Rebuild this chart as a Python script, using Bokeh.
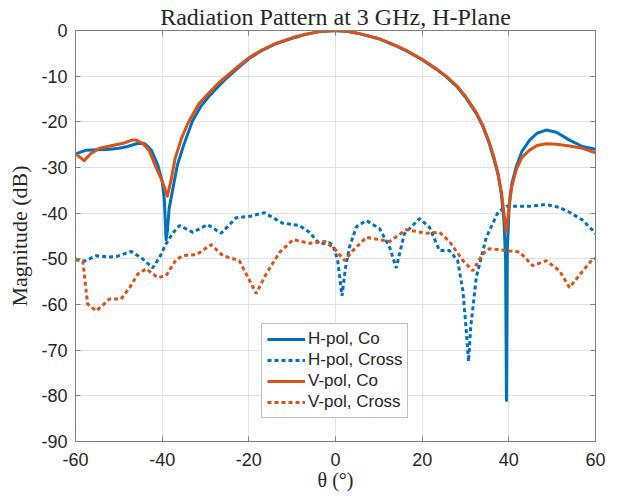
from bokeh.plotting import figure
from bokeh.models import LinearAxis, Legend, LegendItem, FixedTicker, Range1d, Title
from bokeh.embed import file_html
from bokeh.resources import INLINE

# ---- data ----
h_co_x = [-60, -57.5, -55, -52, -50, -48, -45.5, -44, -42.5, -41, -40, -39.5, -39.1, -38.8, -38.4,
          -37.5, -36.5, -35, -33, -31, -29, -27, -25, -22, -20, -17, -14, -10, -7, -4, 0, 3, 6, 10,
          14, 17, 20, 23, 25.5, 28, 30, 32.5, 34, 35.5, 36.5, 37.5, 38.3, 38.9, 39.25, 39.45, 39.65,
          40.1, 40.7, 41.7, 43, 44.8, 46.5, 48.6, 51, 54, 57, 60]
h_co_y = [-27, -26.2, -26.1, -26.0, -25.8, -25.4, -24.7, -24.8, -26.2, -29.5, -33, -37, -45.8, -44,
          -39, -34.5, -29.5, -25, -19.8, -16.5, -14.2, -12.2, -10.3, -7.8, -6.2, -4.4, -3.0, -1.7,
          -0.9, -0.3, 0, -0.2, -0.8, -1.8, -3.4, -4.8, -6.4, -8.3, -10.1, -12.3, -14.6, -18.2, -21,
          -24.8, -28, -31.5, -36, -42, -50, -81, -48, -38, -33.5, -29.9, -26.5, -24, -22.5, -21.8,
          -22.3, -24, -25.4, -26.0]

v_co_x = [-60, -58, -56.5, -54.5, -51.5, -49, -47, -46, -44.5, -43, -41.5, -40, -38.8, -38, -37,
          -35.5, -34, -31.5, -29, -27, -25, -22, -20, -17, -14, -10, -7, -4, 0, 3, 6, 10, 14, 17,
          20, 23, 25.5, 28, 30, 32.5, 34, 35.5, 36.5, 37.5, 38.3, 39, 39.4, 39.9, 40.6, 41.7, 43,
          44.8, 46.5, 48.6, 51, 54, 57, 60]
v_co_y = [-27, -28.5, -27, -25.8, -25.2, -24.7, -24.0, -24.0, -24.7, -26.3, -29.8, -33, -36.3, -33,
          -28, -23.5, -20.2, -16, -13.5, -11.5, -9.9, -7.5, -6, -4.3, -2.9, -1.6, -0.8, -0.3, 0,
          -0.2, -0.8, -1.8, -3.3, -4.7, -6.3, -8.2, -10.0, -12.1, -14.4, -18.0, -20.8, -24.5, -27.5,
          -31.3, -35.5, -41, -44.2, -40, -34.5, -30.5, -27.8, -26.2, -25.2, -24.8, -24.9, -25.3,
          -25.8, -26.8]

h_cr_x = [-60, -57.9, -55.2, -52.5, -50.6, -47.1, -44.5, -42.2, -40.6, -39.1, -37.5, -36, -32.9,
          -29.5, -26.4, -22.9, -19.8, -16.4, -12.2, -8.3, -6, -3.7, -1.4, -0.6, 0.5, 1.5, 2.3, 3.2,
          4.8, 7.1, 10.2, 12.5, 14.0, 15.9, 19.4, 21.7, 24.0, 26.3, 28.2, 29.4, 30.2, 30.7, 31.2,
          32.5, 34.8, 37.5, 39.5, 41.7, 44.8, 48.6, 51.5, 54, 57, 59.4, 60]
h_cr_y = [-50.2, -50.5, -49.3, -49.6, -49.5, -48.4, -50, -52, -49.7, -46.7, -44.3, -42.7, -44.2,
          -42.5, -44.4, -41, -40.7, -39.9, -42.2, -42.7, -44.2, -46.7, -46.5, -47, -50.3, -58.1,
          -52, -47.5, -43, -41.6, -43.4, -47.5, -52, -44.5, -41.2, -43.1, -48.2, -48.2, -50.4, -57,
          -66, -72.5, -65, -54, -45.3, -39.8, -38.5, -38.5, -38.5, -38.1, -38.7, -39.8, -41.5,
          -43.8, -44.5]

v_cr_x = [-60, -58.3, -57.2, -55.2, -53.5, -52.2, -49.5, -47.5, -45.6, -43.7, -41, -39.1, -36.8,
          -35.2, -32.1, -28.7, -26, -22.2, -19.8, -18.3, -16, -12.9, -9.8, -6, -2.5, -0.2, 2.1, 4,
          7.1, 10.2, 12.5, 16.3, 20.9, 24, 26.3, 29.4, 31.7, 34, 35.5, 38, 40.2, 42.5, 45.5, 48.6,
          51.7, 54, 57.1, 59.4, 60]
v_cr_y = [-50, -50.6, -59.9, -61.4, -60, -58.8, -58.8, -56.3, -53.3, -52.2, -54.1, -53.7, -50.2,
          -49.3, -49.1, -46.9, -49.3, -50.4, -54.8, -57.6, -53.3, -48.6, -45.8, -46.6, -46.2, -47.8,
          -50.4, -48.2, -45.3, -45.8, -46.2, -43.6, -44.4, -44.2, -46.2, -50.4, -52.6, -48.9, -47.8,
          -48, -48.3, -48.5, -51.5, -50.4, -52.6, -56.3, -52.6, -50, -50]

x_ticks = [-60, -40, -20, 0, 20, 40, 60]
y_ticks = [-90, -80, -70, -60, -50, -40, -30, -20, -10, 0]

labels = ["H-pol, Co", "H-pol, Cross", "V-pol, Co", "V-pol, Cross"]
BLUE = "#0072BD"
ORANGE = "#D95319"
TXT = "#262626"
FRAME = "#808080"
SANS = "Liberation Sans"
SERIF = "Liberation Serif"

p = figure(width=611, height=496, output_backend="svg", toolbar_location=None,
           x_range=Range1d(-60, 60), y_range=Range1d(-90, 0),
           min_border_left=75, min_border_right=16, min_border_top=30, min_border_bottom=55)
p.background_fill_color = "white"
p.border_fill_color = "white"
p.outline_line_color = FRAME
p.outline_line_width = 1

for ax in (p.xaxis[0], p.yaxis[0]):
    ax.major_tick_in = 5
    ax.major_tick_out = 0
    ax.minor_tick_in = 0
    ax.minor_tick_out = 0
    ax.axis_line_color = FRAME
    ax.major_tick_line_color = FRAME
    ax.major_label_text_font = SANS
    ax.major_label_text_font_size = "18px"
    ax.major_label_text_color = TXT
    ax.axis_label_text_font = SERIF
    ax.axis_label_text_font_style = "normal"
    ax.axis_label_text_color = TXT

p.xaxis.ticker = FixedTicker(ticks=x_ticks)
p.yaxis.ticker = FixedTicker(ticks=y_ticks)
p.xaxis.major_label_overrides = {t: str(t) for t in x_ticks}
p.yaxis.major_label_overrides = {t: str(t) for t in y_ticks}
p.xaxis.major_label_standoff = 11
p.yaxis.major_label_standoff = 8
p.xaxis.axis_label = "θ (°)"
p.xaxis.axis_label_text_font_size = "20px"
p.xaxis.axis_label_standoff = 0
p.yaxis.axis_label = "Magnitude (dB)"
p.yaxis.axis_label_text_font_size = "22px"
p.yaxis.axis_label_standoff = 6

p.xgrid.ticker = FixedTicker(ticks=x_ticks)
p.ygrid.ticker = FixedTicker(ticks=y_ticks)
p.grid.grid_line_color = "#e3e3e3"
p.grid.grid_line_width = 1

# mirrored tick marks (top/right), labels not drawn
mirror = dict(major_label_text_font_size="1px", major_label_text_alpha=0,
              major_tick_in=5, major_tick_out=0, minor_tick_in=0, minor_tick_out=0,
              axis_line_color=FRAME, major_tick_line_color=FRAME, major_label_standoff=0)
p.add_layout(LinearAxis(ticker=FixedTicker(ticks=x_ticks), **mirror), "above")
p.add_layout(LinearAxis(ticker=FixedTicker(ticks=y_ticks), **mirror), "right")

p.title = Title(text="Radiation Pattern at 3 GHz, H-Plane", align="center",
                text_font=SERIF, text_font_size="24px", text_font_style="normal",
                text_color=TXT, standoff=2)

r1 = p.line(h_co_x, h_co_y, line_color=BLUE, line_width=3, line_join="round")
r2 = p.line(h_cr_x, h_cr_y, line_color=BLUE, line_width=3, line_dash="4 3")
r3 = p.line(v_co_x, v_co_y, line_color=ORANGE, line_width=3, line_join="round")
r4 = p.line(v_cr_x, v_cr_y, line_color=ORANGE, line_width=3, line_dash="4 3")

legend = Legend(items=[LegendItem(label=labels[0], renderers=[r1]),
                       LegendItem(label=labels[1], renderers=[r2]),
                       LegendItem(label=labels[2], renderers=[r3]),
                       LegendItem(label=labels[3], renderers=[r4])],
                location=(186, 23))
legend.label_text_font = SANS
legend.label_text_font_size = "17px"
legend.label_text_color = TXT
legend.glyph_width = 38
legend.glyph_height = 20
legend.label_height = 20
legend.spacing = 1
legend.padding = 5
legend.margin = 0
legend.label_standoff = 3
legend.border_line_color = FRAME
legend.border_line_width = 1
legend.background_fill_alpha = 1
p.add_layout(legend, "center")

open("out.html", "w").write(file_html(p, INLINE))
